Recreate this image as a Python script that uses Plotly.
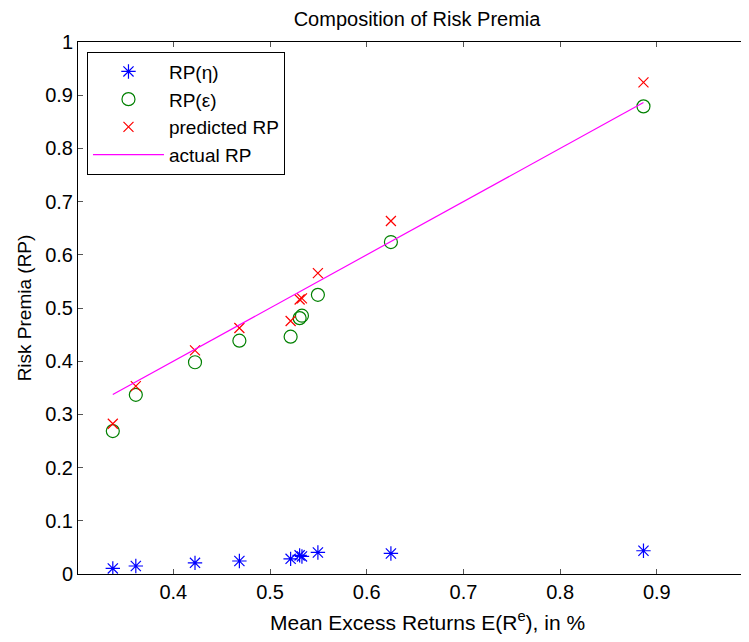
import plotly.graph_objects as go

# Data
mean_excess_returns = [0.3374, 0.3612, 0.4224, 0.4683, 0.5213, 0.5306, 0.5330, 0.5495, 0.6250, 0.8862]
rp_eta = [0.0105, 0.015, 0.021, 0.0244, 0.0285, 0.0350, 0.0330, 0.0405, 0.0386, 0.0437]
rp_eps = [0.2686, 0.3368, 0.3980, 0.4386, 0.4461, 0.4810, 0.4855, 0.5248, 0.6240, 0.8790]
predicted_rp = [0.2825, 0.3530, 0.4204, 0.4624, 0.4755, 0.5160, 0.5180, 0.5655, 0.6635, 0.9240]
actual_rp = [0.3374, 0.3612, 0.4224, 0.4683, 0.5213, 0.5306, 0.5330, 0.5495, 0.6250, 0.8862]

x_tick_vals = [0.4, 0.5, 0.6, 0.7, 0.8, 0.9]
x_tick_text = ["0.4", "0.5", "0.6", "0.7", "0.8", "0.9"]
y_tick_vals = [0, 0.1, 0.2, 0.3, 0.4, 0.5, 0.6, 0.7, 0.8, 0.9, 1.0]
y_tick_text = ["0", "0.1", "0.2", "0.3", "0.4", "0.5", "0.6", "0.7", "0.8", "0.9", "1"]

FONT = "Liberation Sans, Arial, sans-serif"

fig = go.Figure()
fig.add_trace(go.Scatter(
    x=mean_excess_returns, y=rp_eta, mode="markers", name="RP(η)",
    marker=dict(symbol="asterisk-open", size=12, color="#0000ff",
                line=dict(color="#0000ff", width=1.2)),
))
fig.add_trace(go.Scatter(
    x=mean_excess_returns, y=rp_eps, mode="markers", name="RP(ε)",
    marker=dict(symbol="circle-open", size=13, color="#008000",
                line=dict(color="#008000", width=1.2)),
))
fig.add_trace(go.Scatter(
    x=mean_excess_returns, y=predicted_rp, mode="markers", name="predicted RP",
    marker=dict(symbol="x-thin-open", size=10, color="#ff0000",
                line=dict(color="#ff0000", width=1.2)),
))
fig.add_trace(go.Scatter(
    x=mean_excess_returns, y=actual_rp, mode="lines", name="actual RP",
    line=dict(color="#ff00ff", width=1.2),
))

axis_common = dict(
    showgrid=False, zeroline=False, showline=True, linecolor="black", linewidth=1,
    mirror="ticks", ticks="inside", ticklen=5, tickcolor="#555555", tickwidth=1,
    tickfont=dict(family=FONT, size=20, color="black"),
)

fig.update_layout(
    width=741, height=634,
    margin=dict(l=70, r=1, t=33.5, b=67.5),
    paper_bgcolor="white", plot_bgcolor="white",
    title=dict(text="Composition of Risk Premia", x=0.552, xanchor="center",
               y=1.0, yanchor="top", pad=dict(t=4, b=0, l=0, r=0),
               font=dict(family=FONT, size=20, color="black")),
    xaxis=dict(range=[0.3014, 0.9943], tickvals=x_tick_vals, ticktext=x_tick_text,
               **axis_common),
    yaxis=dict(range=[0, 1], tickvals=y_tick_vals, ticktext=y_tick_text,
               title=dict(text="Risk Premia (RP)",
                          font=dict(family=FONT, size=19, color="black"), standoff=8),
               **axis_common),
    legend=dict(x=0.0134, y=0.982, xanchor="left", yanchor="top",
                bgcolor="white", bordercolor="black", borderwidth=1,
                font=dict(family=FONT, size=19, color="black"),
                itemwidth=71, entrywidth=138, entrywidthmode="pixels"),
    showlegend=True,
    annotations=[dict(
        text="Mean Excess Returns E(R<sup>e</sup>), in %",
        xref="paper", yref="paper", x=0.522, y=0, xanchor="center", yanchor="middle",
        yshift=-47, showarrow=False,
        font=dict(family=FONT, size=21, color="black"),
    )],
)

fig.write_html("out.html")
